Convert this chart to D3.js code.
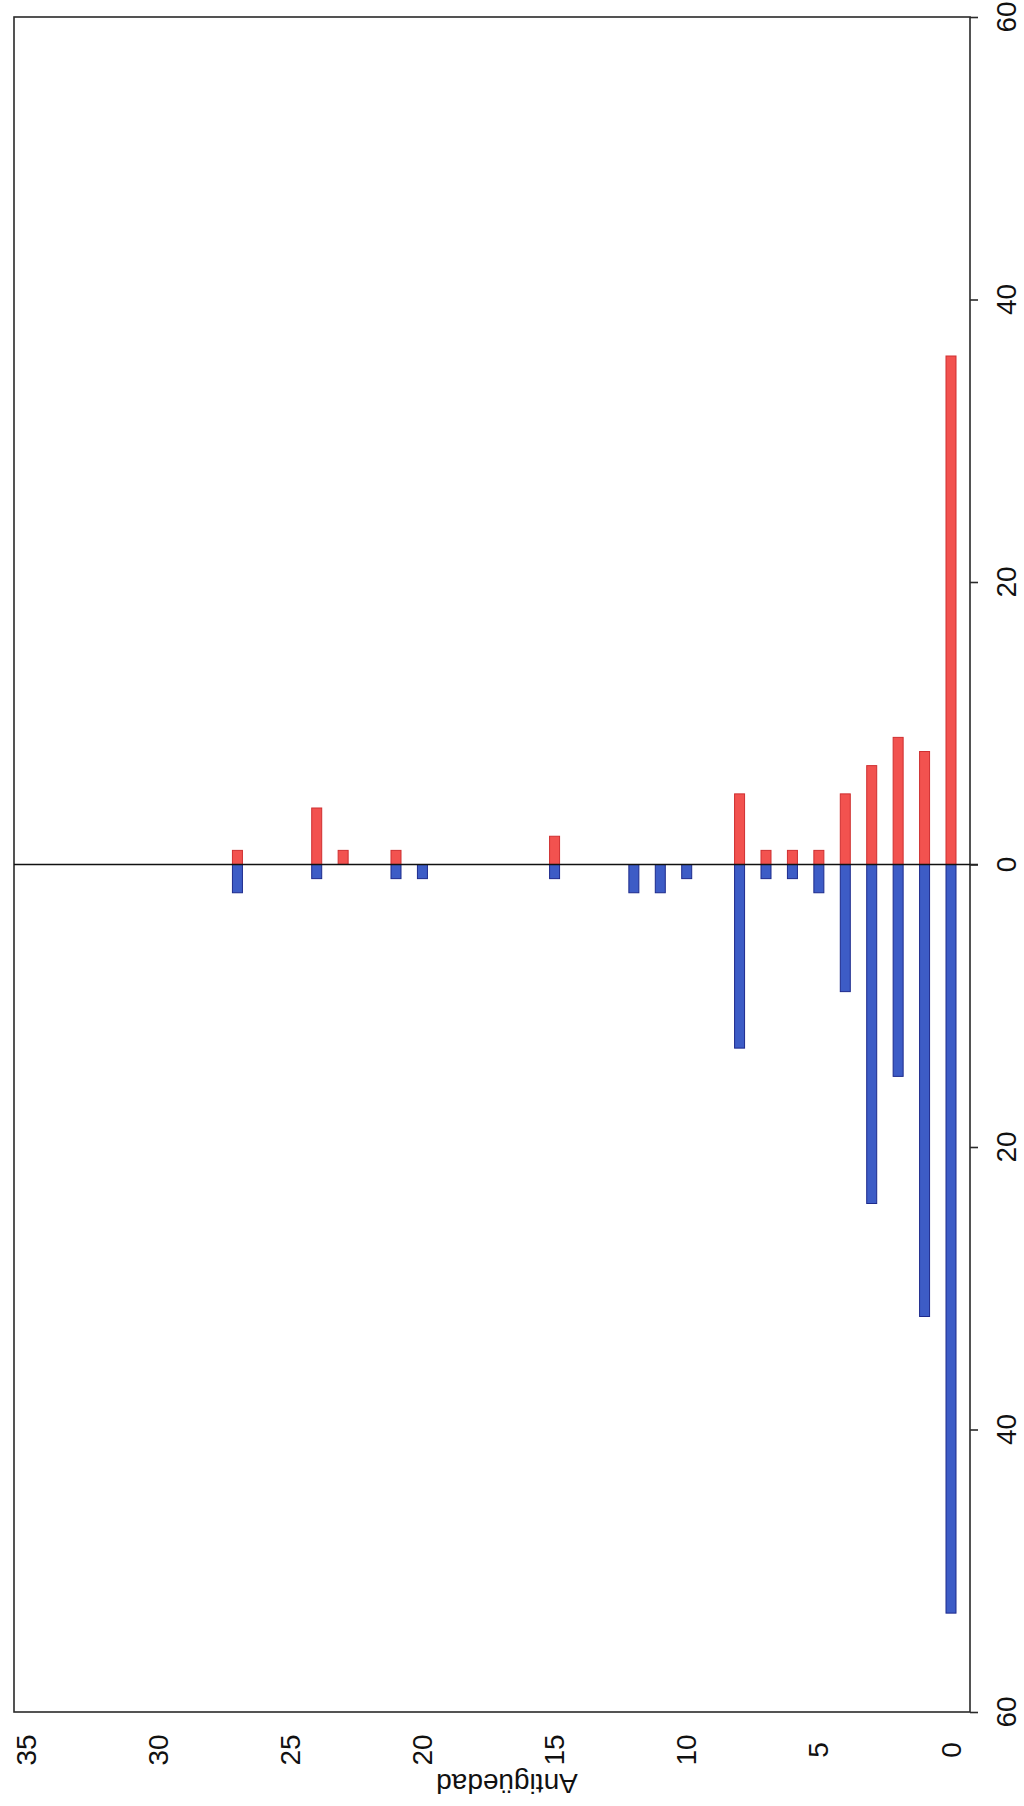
<!DOCTYPE html>
<html>
<head>
<meta charset="utf-8">
<script src="https://cdn.jsdelivr.net/npm/d3@7"></script>
<style>
  body { margin: 0; background: #fff; }
  svg { display: block; font-family: "Liberation Sans", Arial, sans-serif; }
</style>
</head>
<body>
<div id="chart"></div>
<script>
// Antigüedad: two opposed bar series (red up, blue down), page turned on its side

const ages      = [0, 1, 2, 3, 4, 5, 6, 7, 8, 10, 11, 12, 15, 20, 21, 23, 24, 27];
const redCounts = [36, 8, 9, 7, 5, 1, 1, 1, 5, 0, 0, 0, 2, 0, 1, 1, 4, 1];
const blueCounts = [53, 32, 15, 24, 9, 2, 1, 1, 13, 1, 2, 2, 1, 1, 1, 0, 1, 2];

const ageTicks = [0, 5, 10, 15, 20, 25, 30, 35];
const valueTicks = [-60, -40, -20, 0, 20, 40, 60];
const axisTitle = 'Antigüedad';

const width = 1024;
const height = 1806;

// plot box
const box = { left: 14, right: 970, top: 17, bottom: 1712 };

const svg = d3.select('#chart').append('svg')
    .attr('width', width)
    .attr('height', height);

// age runs right-to-left along the page
const x = d3.scaleLinear()
    .domain([0, 35])
    .range([951, 26]);

// counts: red up from zero, blue down from zero
const y = d3.scaleLinear()
    .domain([60, -60])
    .range([box.top, box.bottom]);

const barW = 10;

const rows = ages.map((a, i) => ({ age: a, red: redCounts[i], blue: blueCounts[i] }));

// Box outline
svg.append('rect')
    .attr('x', box.left)
    .attr('y', box.top)
    .attr('width', box.right - box.left)
    .attr('height', box.bottom - box.top)
    .attr('fill', 'none')
    .attr('stroke', '#2a2a2a')
    .attr('stroke-width', 1.6);

// Red bars
svg.append('g').selectAll('rect')
    .data(rows.filter(d => d.red > 0))
    .enter()
    .append('rect')
    .attr('x', d => x(d.age) - barW / 2)
    .attr('y', d => y(d.red))
    .attr('width', barW)
    .attr('height', d => y(0) - y(d.red))
    .attr('fill', '#f2524f')
    .attr('stroke', '#cf2f30')
    .attr('stroke-width', 1);

// Blue bars
svg.append('g').selectAll('rect')
    .data(rows.filter(d => d.blue > 0))
    .enter()
    .append('rect')
    .attr('x', d => x(d.age) - barW / 2)
    .attr('y', y(0))
    .attr('width', barW)
    .attr('height', d => y(-d.blue) - y(0))
    .attr('fill', '#3d5cc6')
    .attr('stroke', '#1d2a8c')
    .attr('stroke-width', 1);

// Zero line (runs a little past the right axis like a tick)
svg.append('line')
    .attr('x1', box.left)
    .attr('x2', box.right + 8)
    .attr('y1', y(0))
    .attr('y2', y(0))
    .attr('stroke', '#111')
    .attr('stroke-width', 1.6);

// Right value axis
const yAxis = svg.append('g')
    .attr('transform', `translate(${box.right},0)`)
    .call(d3.axisRight(y).tickValues(valueTicks).tickSize(8).tickFormat(''));
yAxis.select('.domain').remove();
yAxis.selectAll('line').attr('stroke', '#2a2a2a').attr('stroke-width', 1.6);

svg.append('g').selectAll('text')
    .data(valueTicks)
    .enter()
    .append('text')
    .attr('transform', d => `translate(1006,${y(d)}) rotate(-90)`)
    .attr('text-anchor', 'middle')
    .attr('dominant-baseline', 'central')
    .attr('font-size', 28)
    .attr('fill', '#111')
    .text(d => Math.abs(d));

// Bottom age labels
svg.append('g').selectAll('text')
    .data(ageTicks)
    .enter()
    .append('text')
    .attr('transform', d => `translate(${x(d)},1750) rotate(-90)`)
    .attr('text-anchor', 'middle')
    .attr('dominant-baseline', 'central')
    .attr('font-size', 28)
    .attr('fill', '#111')
    .text(d => d);

// Axis title, upside down
svg.append('text')
    .attr('transform', 'translate(507,1783) rotate(180)')
    .attr('text-anchor', 'middle')
    .attr('dominant-baseline', 'central')
    .attr('font-size', 28)
    .attr('fill', '#111')
    .text(axisTitle);
</script>
</body>
</html>
